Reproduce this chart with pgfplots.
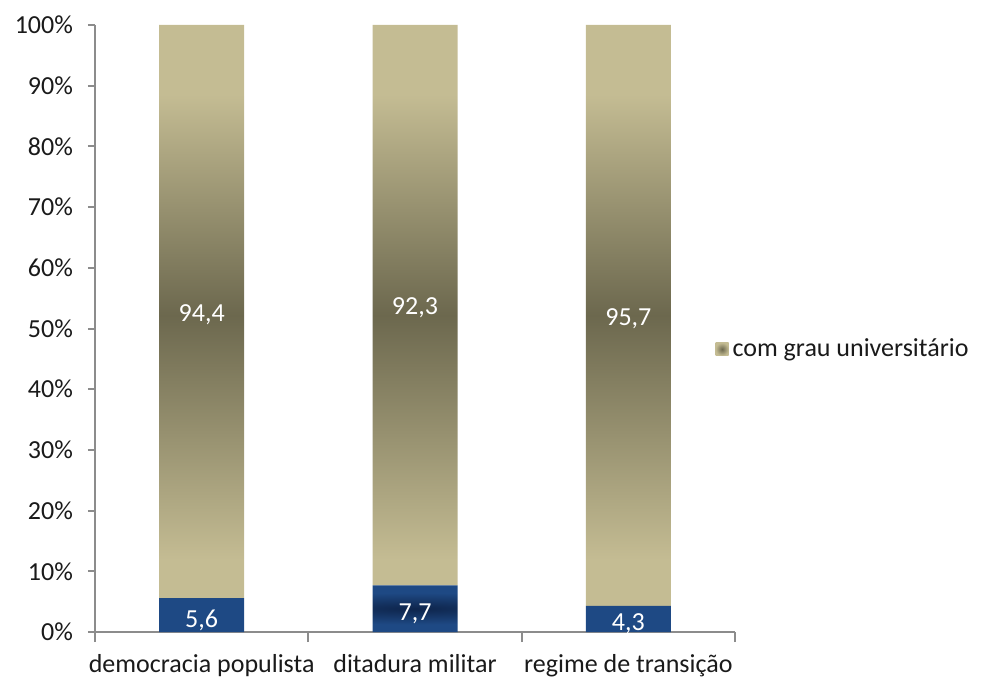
\documentclass[border=0pt]{standalone}
\usepackage{pgfplots}
\pgfplotsset{compat=1.18}
\usepackage{pgfplotstable}
\usepackage{fontspec}
\setmainfont{Carlito}
\definecolor{beige}{HTML}{C4BC93}
\definecolor{beigedark}{HTML}{6C684E}
\definecolor{bluelight}{HTML}{1E4984}
\definecolor{bluedark}{HTML}{0E254C}
\definecolor{axisgray}{HTML}{8C8C8C}
\definecolor{txt}{HTML}{1A1A1A}
\pgfdeclareverticalshading{beigeshade}{100bp}{color(0bp)=(beige); color(25bp)=(beige); color(29bp)=(beige); color(50bp)=(beigedark); color(69bp)=(beige); color(75bp)=(beige); color(100bp)=(beige)}
\pgfdeclareradialshading{blueshade}{\pgfpoint{0bp}{0bp}}{color(0bp)=(bluedark); color(17bp)=(bluelight); color(50bp)=(bluelight)}
\pgfdeclareradialshading{legshade}{\pgfpoint{0bp}{0bp}}{color(0bp)=(beigedark); color(25bp)=(beige); color(50bp)=(beige)}

\pgfplotstableread{
x blue beige bl bel
0 5.6 94.4 5,6 94,4
1 7.7 92.3 7,7 92,3
2 4.3 95.7 4,3 95,7
}\bars

\begin{document}
\begin{tikzpicture}
\useasboundingbox (-47.5pt,-24.5pt) rectangle (443pt,316pt);
\begin{axis}[
  width=320pt, height=303.5pt, scale only axis,
  ybar stacked, bar width=42.5pt,
  xmin=-0.5, xmax=2.5, ymin=0, ymax=100,
  axis lines*=left,
  axis line style={axisgray, line width=1pt},
  xtick={0,1,2},
  xticklabels={democracia populista, ditadura militar, regime de transição},
  major x tick style={draw=none},
  minor xtick={-0.5,0.5,1.5,2.5},
  minor tick length=5pt,
  minor tick style={axisgray, line width=1pt},
  ytick={0,10,...,100},
  yticklabels={0\%,10\%,20\%,30\%,40\%,50\%,60\%,70\%,80\%,90\%,100\%},
  tick align=outside,
  major tick length=3.5pt,
  tick style={axisgray, line width=1pt},
  tick label style={font=\fontsize{13}{15}\selectfont, text=txt},
  yticklabel style={xshift=-4pt},
  xticklabel style={yshift=-4pt},
  legend style={at={(0.969,0.466)}, anchor=west, draw=none, fill=none,
    font=\fontsize{13}{15}\selectfont, text=txt, inner sep=0pt},
  legend cell align=left,
  legend image code/.code={\shade[shading=legshade] (0pt,-3.25pt) rectangle (6.5pt,3.25pt);},
  nodes near coords, point meta=explicit symbolic,
]
\addplot[draw=none, shade, shading=blueshade, forget plot,
  every node near coord/.append style={anchor=center, text=white, font=\fontsize{13}{15}\selectfont, inner sep=0pt, yshift=-2.5pt}]
  table[x=x, y=blue, meta=bl]{\bars};
\addplot[draw=none, shade, shading=beigeshade,
  every node near coord/.append style={anchor=center, text=white, font=\fontsize{13}{15}\selectfont, inner sep=0pt, yshift=-1.5pt}]
  table[x=x, y=beige, meta=bel]{\bars};
\addlegendentry{com grau universitário}
\end{axis}
\end{tikzpicture}
\end{document}
